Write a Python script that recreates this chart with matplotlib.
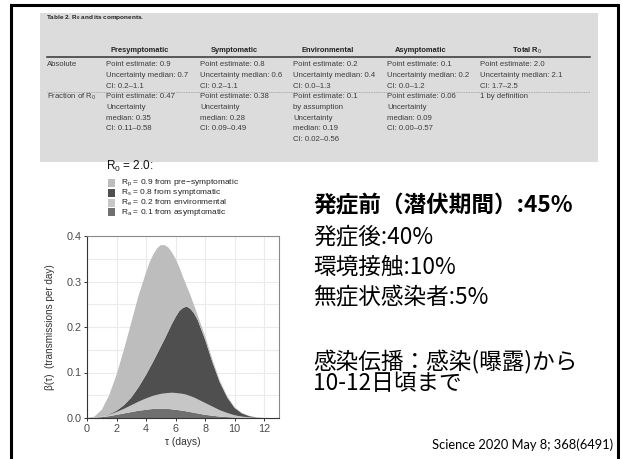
import matplotlib
matplotlib.use("Agg")
import matplotlib.pyplot as plt
from matplotlib.patches import Rectangle
from matplotlib.ticker import MultipleLocator

plt.rcParams['font.family'] = ['Liberation Sans', 'DejaVu Sans']
plt.rcParams['mathtext.fontset'] = 'custom'
plt.rcParams['mathtext.rm'] = 'Liberation Sans'
plt.rcParams['mathtext.bf'] = 'Liberation Sans:bold'

# Table 2: R0 and its components
col_heads = ["Presymptomatic", "Symptomatic", "Environmental", "Asymptomatic", r"Total R$_0$"]
row_heads = ["Absolute", r"Fraction of R$_0$"]
absolute_cells = [
    ["Point estimate: 0.9", "Uncertainty median: 0.7", "CI: 0.2\u20131.1"],
    ["Point estimate: 0.8", "Uncertainty median: 0.6", "CI: 0.2\u20131.1"],
    ["Point estimate: 0.2", "Uncertainty median: 0.4", "CI: 0.0\u20131.3"],
    ["Point estimate: 0.1", "Uncertainty median: 0.2", "CI: 0.0\u20131.2"],
    ["Point estimate: 2.0", "Uncertainty median: 2.1", "CI: 1.7\u20132.5"],
]
fraction_cells = [
    ["Point estimate: 0.47", "Uncertainty", "median: 0.35", "CI: 0.11\u20130.58"],
    ["Point estimate: 0.38", "Uncertainty", "median: 0.28", "CI: 0.09\u20130.49"],
    ["Point estimate: 0.1", "by assumption", "Uncertainty", "median: 0.19", "CI: 0.02\u20130.56"],
    ["Point estimate: 0.06", "Uncertainty", "median: 0.09", "CI: 0.00\u20130.57"],
    ["1 by definition"],
]

# beta(tau), stacked contributions (transmissions per day)
tau = [0, 0.5, 1, 1.5, 2, 2.5, 3, 3.5, 4, 4.25, 4.5, 4.75, 5, 5.25, 5.5, 5.75, 6, 6.25, 6.5, 6.75,
       7, 7.25, 7.5, 8, 8.5, 9, 9.5, 10, 10.5, 11, 11.5, 12, 12.5, 13]
beta_a = [0, 0.0005, 0.002, 0.004, 0.007, 0.010, 0.013, 0.016, 0.018, 0.019, 0.020, 0.020, 0.020, 0.020,
          0.020, 0.019, 0.018, 0.017, 0.016, 0.0145, 0.013, 0.0115, 0.010, 0.007, 0.005, 0.003, 0.002,
          0.001, 0.0005, 0.0002, 0, 0, 0, 0]
beta_e = [0, 0, 0.001, 0.003, 0.006, 0.010, 0.015, 0.020, 0.025, 0.027, 0.029, 0.031, 0.033, 0.034,
          0.035, 0.0365, 0.037, 0.037, 0.037, 0.0365, 0.035, 0.0335, 0.031, 0.026, 0.020, 0.014, 0.009,
          0.005, 0.0025, 0.0013, 0.0005, 0, 0, 0]
beta_s = [0, 0, 0, 0.001, 0.003, 0.008, 0.017, 0.032, 0.052, 0.064, 0.076, 0.090, 0.104, 0.119,
          0.135, 0.1515, 0.167, 0.181, 0.189, 0.194, 0.192, 0.185, 0.174, 0.139, 0.097, 0.061, 0.034,
          0.016, 0.007, 0.0025, 0.0005, 0, 0, 0]
beta_p = [0, 0.0025, 0.015, 0.042, 0.079, 0.122, 0.165, 0.202, 0.225, 0.233, 0.235, 0.232, 0.223, 0.207,
          0.185, 0.157, 0.128, 0.097, 0.068, 0.045, 0.030, 0.018, 0.010, 0.008, 0.006, 0.004, 0.003,
          0.002, 0.001, 0.0005, 0.0002, 0, 0, 0]

legend_title = r"R$_0$ = 2.0:"
legend_labels = [r"R$_\mathrm{p}$ = 0.9 from pre" + "\u2212symptomatic",
                 r"R$_\mathrm{s}$ = 0.8 from symptomatic",
                 r"R$_\mathrm{e}$ = 0.2 from environmental",
                 r"R$_\mathrm{a}$ = 0.1 from asymptomatic"]
c_p, c_s, c_e, c_a = "#bdbdbd", "#4f4f4f", "#c6c6c6", "#6f6f6f"

jp_lines = ["発症後:40%", "環境接触:10%", "無症状感染者:5%"]
jp_bold = "発症前（潜伏期間）:45%"
jp_note = ["感染伝播：感染(曝露)から", "10-12日頃まで"]
source = "Science 2020 May 8; 368(6491)"

W, H = 621, 459
fig = plt.figure(figsize=(W / 100, H / 100), dpi=100)

# pixel-space canvas for the slide
bg = fig.add_axes([0, 0, 1, 1])
bg.set_xlim(0, W)
bg.set_ylim(H, 0)
bg.axis("off")

# slide frame
bg.plot([11, 11, 618, 618], [H, 5, 5, H], color="black", lw=2.2, solid_joinstyle="miter")

# table background
bg.add_patch(Rectangle((40, 13), 558, 149, color="#dcdcdc", lw=0))
tc = "#3c3c3c"
bg.text(46, 17, r"Table 2. R$_\mathbf{0}$ and its components.", fontsize=4.6, weight="bold",
        color="#222", va="center")
head_x = [140, 234, 328, 421, 527]
for x, h in zip(head_x, col_heads):
    bg.text(x, 51, h, fontsize=5.4, weight="bold", color="#222", ha="center", va="center")
bg.plot([47, 590], [57, 57], color="#333", lw=1.1)
bg.plot([47, 590], [92, 92], color="#999", lw=0.6, ls=(0, (1, 1)))

col_x = [106, 200, 293, 387, 480]
bg.text(47, 65, row_heads[0], fontsize=5.6, color=tc, va="center")
bg.text(47, 97, row_heads[1], fontsize=5.6, color=tc, va="center")
for x, cell in zip(col_x, absolute_cells):
    for i, line in enumerate(cell):
        bg.text(x, 65 + i * 10.6, line, fontsize=5.6, color=tc, va="center")
for x, cell in zip(col_x, fraction_cells):
    for i, line in enumerate(cell):
        bg.text(x, 97 + i * 10.6, line, fontsize=5.6, color=tc, va="center")

# legend of the beta(tau) chart
bg.text(106, 166, legend_title, fontsize=8.5, color="#111", va="center")
for i, (lab, c) in enumerate(zip(legend_labels, [c_p, c_s, c_e, c_a])):
    y = 183 + i * 9.8
    bg.add_patch(Rectangle((108, y - 4), 7, 8, color=c, lw=0))
    bg.text(121, y, lab, fontsize=6.0, color="#222", va="center")

# beta(tau) stacked area chart
ax = fig.add_axes([87 / W, 41 / H, 192 / W, 182 / H])
ax.stackplot(tau, beta_a, beta_e, beta_s, beta_p, colors=[c_a, c_e, c_s, c_p], lw=0)
ax.set_xlim(0, 13)
ax.set_ylim(0, 0.4)
ax.set_xticks([0, 2, 4, 6, 8, 10, 12])
ax.set_yticks([0.0, 0.1, 0.2, 0.3, 0.4])
ax.yaxis.set_minor_locator(MultipleLocator(0.05))
ax.grid(which="both", color="#ebebeb", lw=0.8)
ax.set_axisbelow(True)
ax.tick_params(which="minor", length=0)
ax.tick_params(labelsize=7.8, labelcolor="#4a4a4a", color="#333", length=2.5, width=0.7, pad=1.5)
for s in ["left", "bottom"]:
    ax.spines[s].set_color("#333")
    ax.spines[s].set_linewidth(0.8)
for s in ["top", "right"]:
    ax.spines[s].set_color("#8a8a8a")
    ax.spines[s].set_linewidth(0.8)
ax.set_xlabel("\u03c4 (days)", fontsize=7.4, color="#333")
ax.set_ylabel("\u03b2(\u03c4)  (transmissions per day)", fontsize=7.2, color="#333")
ax.xaxis.set_label_coords(0.5, -0.105)
ax.yaxis.set_label_coords(-0.165, 0.5)

# summary text in Japanese
jp = ["Noto Sans CJK JP", "DejaVu Sans"]
fs = 16.3
bg.text(313, 205, jp_bold, fontsize=fs, weight="bold", family=jp, va="center", color="black")
for i, line in enumerate(jp_lines):
    bg.text(313, 237 + i * 30.5, line, fontsize=fs, family=jp, va="center", color="black")
bg.text(313, 362, jp_note[0], fontsize=fs, family=jp, va="center", color="black")
bg.text(313, 384, jp_note[1], fontsize=fs, family=jp, va="center", color="black")

bg.text(613, 445, source, fontsize=9.3, family=["Lato", "DejaVu Sans"], ha="right", va="center",
        color="black")

fig.savefig("out.png", dpi=100)
